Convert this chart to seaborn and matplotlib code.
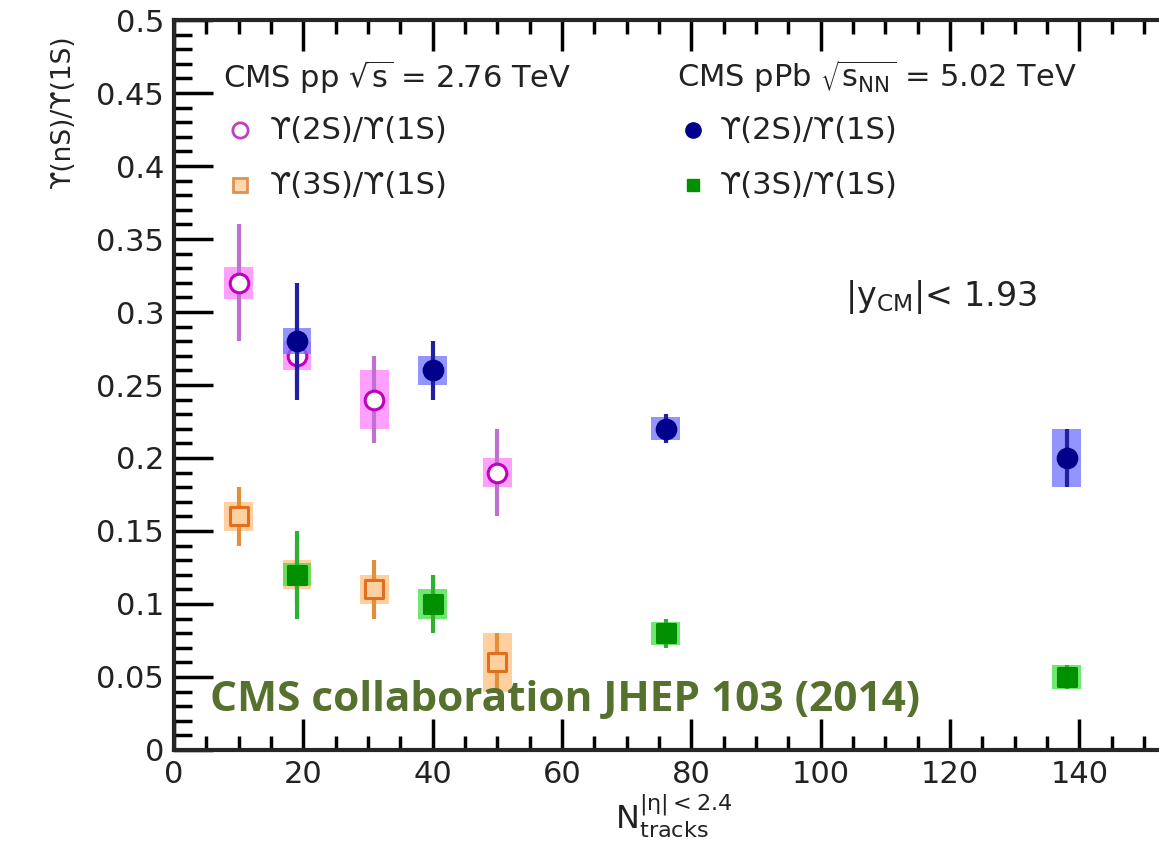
import numpy as np
import pandas as pd
import seaborn as sns
import matplotlib
matplotlib.use("Agg")
import matplotlib.pyplot as plt
from matplotlib.ticker import MultipleLocator, FuncFormatter

sns.set_style("ticks")
plt.rcParams['font.family'] = ['DejaVu Sans']
plt.rcParams['mathtext.fontset'] = 'dejavusans'

# ---- data ----
pp_x = [10, 19, 31, 50]
pp2_y = [0.32, 0.27, 0.24, 0.19]
pp2_stat = [0.04, 0.025, 0.03, 0.03]
pp2_sys = [0.011, 0.01, 0.02, 0.01]
pp3_y = [0.16, 0.12, 0.11, 0.06]
pp3_stat = [0.02, 0.02, 0.02, 0.02]
pp3_sys = [0.01, 0.01, 0.01, 0.02]

ppb_x = [19, 40, 76, 138]
ppb2_y = [0.28, 0.26, 0.22, 0.20]
ppb2_stat = [0.04, 0.02, 0.01, 0.02]
ppb2_sys = [0.009, 0.01, 0.008, 0.02]
ppb3_y = [0.12, 0.10, 0.08, 0.05]
ppb3_stat = [0.03, 0.02, 0.01, 0.008]
ppb3_sys = [0.008, 0.01, 0.008, 0.008]

entry_labels = ['ϒ(2S)/ϒ(1S)', 'ϒ(3S)/ϒ(1S)']

series = [
    # x, y, stat, sys, marker, face, edge, statcol, boxcol
    (pp_x, pp2_y, pp2_stat, pp2_sys, 'o', 'white', '#c000c0', '#c070d0', '#ff80ff'),
    (pp_x, pp3_y, pp3_stat, pp3_sys, 's', '#ffd0a0', '#e07020', '#e0903a', '#ffc080'),
    (ppb_x, ppb2_y, ppb2_stat, ppb2_sys, 'o', '#00008b', '#00008b', '#2020a0', '#7070ff'),
    (ppb_x, ppb3_y, ppb3_stat, ppb3_sys, 's', '#009000', '#009000', '#30b030', '#40e040'),
]

fig = plt.figure(figsize=(11.59, 8.42), dpi=100)
ax = fig.add_axes([0.1501, 0.1093, 0.8499, 0.8669])

for i, (x, y, st, sy, m, fc, ec, sc, bc) in enumerate(series):
    y = np.array(y); sy = np.array(sy)
    ax.bar(x, 2 * sy, bottom=y - sy, width=4.4, color=bc, alpha=0.75, linewidth=0, zorder=2 + i)
    ax.errorbar(x, y, yerr=st, fmt='none', ecolor=sc, elinewidth=3, capsize=0, zorder=2.5 + i)
    df = pd.DataFrame({'x': x, 'y': y})
    sns.scatterplot(data=df, x='x', y='y', marker=m, s=180 if m == 'o' else 160,
                    facecolor=fc, edgecolor=ec, linewidth=2.2, ax=ax, zorder=3 + i)

ax.set_xlim(0, 152.3)
ax.set_ylim(0, 0.5)
ax.xaxis.set_major_locator(MultipleLocator(20))
ax.xaxis.set_minor_locator(MultipleLocator(5))
ax.yaxis.set_major_locator(MultipleLocator(0.05))
ax.yaxis.set_minor_locator(MultipleLocator(0.01))
ax.tick_params(which='both', direction='in', top=True, right=False, width=2.5, colors='black')
ax.tick_params(axis='y', which='major', length=28, labelsize=22, pad=7)
ax.tick_params(axis='y', which='minor', length=13)
ax.tick_params(axis='x', which='major', length=22, labelsize=22, pad=7)
ax.tick_params(axis='x', which='minor', length=10)
for s in ['left', 'bottom', 'top']:
    ax.spines[s].set_linewidth(3)
ax.spines['right'].set_visible(False)

ax.yaxis.set_major_formatter(FuncFormatter(lambda v, p: ('%.2f' % v).rstrip('0').rstrip('.') if abs(v) > 1e-9 else '0'))
for lbl in ax.get_xticklabels() + ax.get_yticklabels():
    lbl.set_color('#222222')

ax.set_xlabel('')
ax.set_ylabel('')
fig.text(0.054, 0.868, 'ϒ(nS)/ϒ(1S)', rotation=90, fontsize=19, ha='center', va='center', color='#222222')
fig.text(0.581, 0.002, r'N$_{\mathregular{tracks}}^{\mathregular{|\eta|<2.4}}$', fontsize=23,
         ha='center', va='bottom', color='#222222')

# legend-like blocks
T = ax.transAxes
ax.text(0.0497, 0.922, r'CMS pp $\sqrt{\mathregular{s}}$ = 2.76 TeV', transform=T, fontsize=22,
        ha='left', va='center', color='#222222')
ax.text(0.5107, 0.922, r'CMS pPb $\sqrt{\mathregular{s}_{\mathregular{NN}}}$ = 5.02 TeV', transform=T, fontsize=22,
        ha='left', va='center', color='#222222')
rows_y = [0.849, 0.774]
ax.plot([0.067], [rows_y[0]], transform=T, marker='o', ls='none', mfc='white', mec='#c040c0', mew=2, ms=11)
ax.plot([0.067], [rows_y[1]], transform=T, marker='s', ls='none', mfc='#ffd8b0', mec='#e09050', mew=2, ms=10)
ax.plot([0.527], [rows_y[0]], transform=T, marker='o', ls='none', mfc='#00008b', mec='#00008b', ms=11)
ax.plot([0.527], [rows_y[1]], transform=T, marker='s', ls='none', mfc='#009000', mec='#009000', ms=9)
for yy, lab in zip(rows_y, entry_labels):
    ax.text(0.0975, yy, lab, transform=T, fontsize=22, ha='left', va='center', color='#222222')
    ax.text(0.554, yy, lab, transform=T, fontsize=22, ha='left', va='center', color='#222222')

ax.text(0.681, 0.6205, r'|y$_{\mathregular{CM}}$|< 1.93', transform=T, fontsize=24,
        color='#222222', ha='left', va='center')
ax.text(0.037, 0.068, 'CMS collaboration JHEP 103 (2014)', transform=T,
        fontsize=30.5, fontweight='bold', family=['Open Sans', 'DejaVu Sans'], color='#56702e',
        ha='left', va='center', zorder=10)

fig.savefig('out.png', dpi=100)
